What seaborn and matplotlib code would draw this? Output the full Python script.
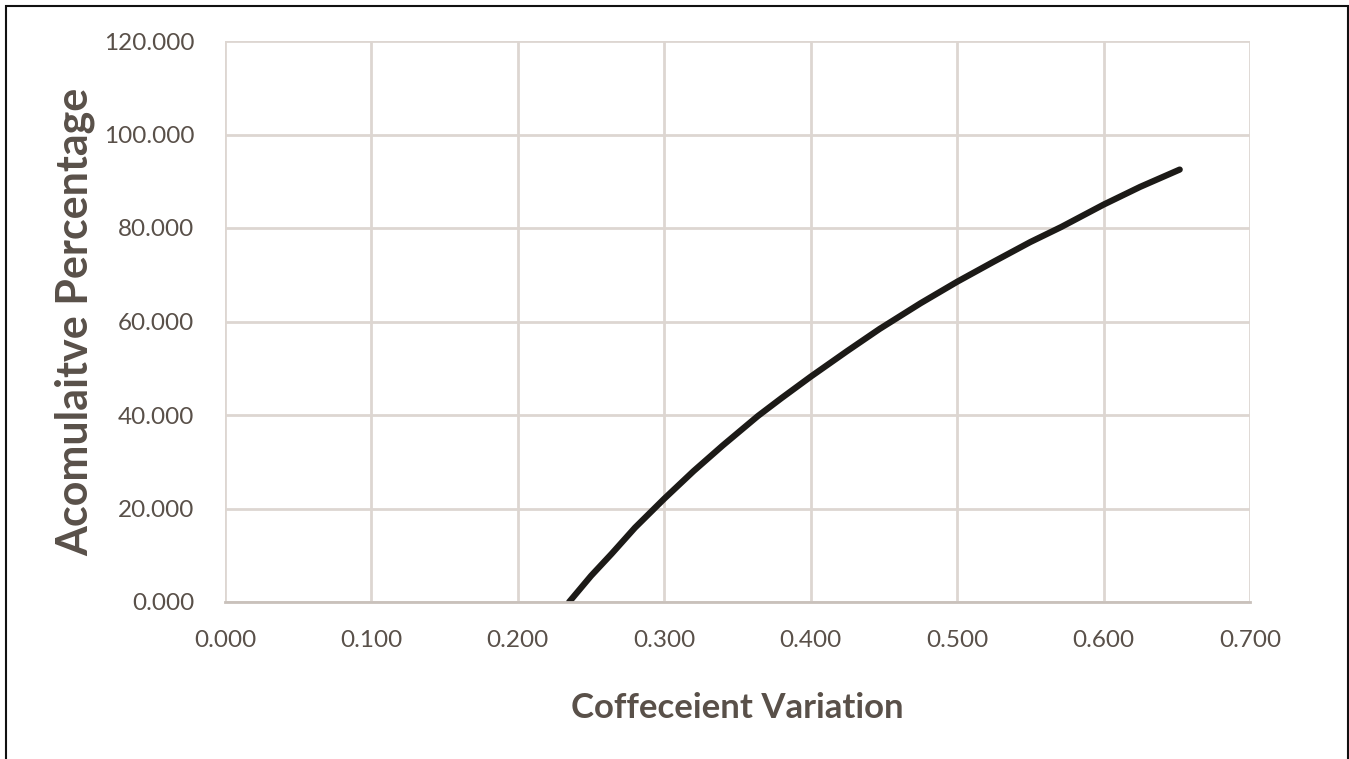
import matplotlib
matplotlib.use("Agg")
import matplotlib.pyplot as plt
import seaborn as sns
import pandas as pd
from matplotlib.patches import Rectangle
from matplotlib.ticker import FormatStrFormatter

cv = [0.235, 0.250, 0.264, 0.280, 0.300, 0.320, 0.340, 0.364, 0.380, 0.400,
      0.425, 0.447, 0.475, 0.500, 0.525, 0.550, 0.571, 0.600, 0.625, 0.652]
pct = [0.0, 5.6, 10.3, 15.9, 22.1, 28.0, 33.5, 39.8, 43.6, 48.2,
       53.7, 58.4, 63.9, 68.5, 72.8, 77.0, 80.2, 85.0, 88.8, 92.5]
x_ticks = [0.0, 0.1, 0.2, 0.3, 0.4, 0.5, 0.6, 0.7]
y_ticks = [0, 20, 40, 60, 80, 100, 120]

sns.set_style("white")
plt.rcParams['font.family'] = ['Lato', 'DejaVu Sans']

df = pd.DataFrame({"cv": cv, "pct": pct})

fig = plt.figure(figsize=(13.49, 7.59), dpi=100)
ax = fig.add_axes([225/1349, 1-602/759, (1250-225)/1349, (602-41)/759])

sns.lineplot(data=df, x="cv", y="pct", ax=ax, color="#1c1a17", linewidth=4.5,
             solid_capstyle="round", solid_joinstyle="round")

ax.set_xlim(0, 0.7)
ax.set_ylim(0, 120)
ax.set_xticks(x_ticks)
ax.set_yticks(y_ticks)
ax.xaxis.set_major_formatter(FormatStrFormatter('%.3f'))
ax.yaxis.set_major_formatter(FormatStrFormatter('%.3f'))
ax.grid(True, color="#ddd6d1", linewidth=2)
ax.set_axisbelow(True)
for s in ["top", "right", "left"]:
    ax.spines[s].set_visible(False)
ax.spines["bottom"].set_color("#c9c1bb")
ax.spines["bottom"].set_linewidth(2)
ax.tick_params(axis="both", length=0, labelsize=17.5, labelcolor="#595049")
ax.tick_params(axis="x", pad=20)
ax.tick_params(axis="y", pad=22)

ax.set_xlabel("Coffeceient Variation", fontsize=25, fontweight="bold", color="#595049", labelpad=30)
ax.set_ylabel("Acomulaitve Percentage", fontsize=31, fontweight="bold", color="#595049", labelpad=6)

fig.patches.append(Rectangle((6/1349, -0.01), (1348-6)/1349, 1-6/759+0.01,
                             transform=fig.transFigure, fill=False,
                             edgecolor="#111111", linewidth=1.5))

fig.savefig("out.png", dpi=100)
